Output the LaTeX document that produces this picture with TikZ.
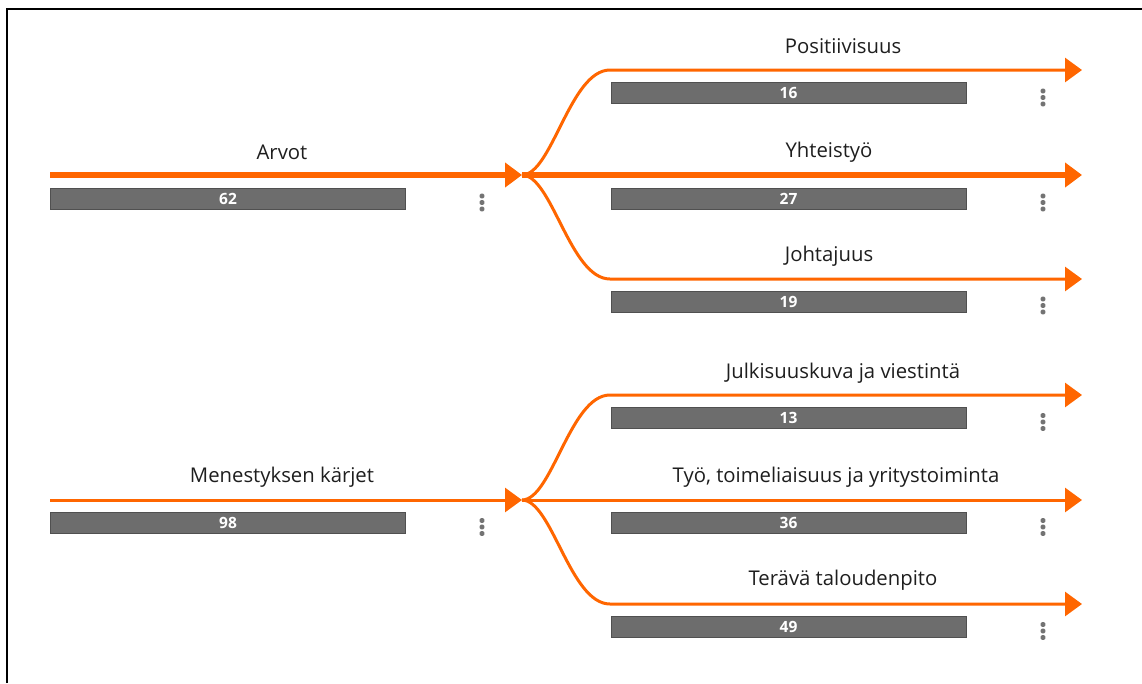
\documentclass[tikz,border=0pt]{standalone}
\usepackage{fontspec}
\setmainfont{Open Sans}
\usetikzlibrary{arrows.meta,positioning,calc}
\definecolor{flow}{RGB}{255,102,0}
\definecolor{barfill}{RGB}{109,109,109}
\definecolor{barline}{RGB}{80,80,80}
\definecolor{dotgray}{RGB}{115,115,115}
\definecolor{labeltext}{RGB}{30,30,30}
\tikzset{
    >={Triangle[length=17pt,width=24pt]},
    thickflow/.style={draw=flow, line width=5.5pt},
    thinflow/.style={draw=flow, line width=3pt},
    countbar/.style={
        rectangle,
        fill=barfill,
        draw=barline, line width=1pt,
        minimum width=355pt,
        minimum height=21pt,
        inner sep=0pt,
        text=white,
        font=\fontsize{15.5}{15.5}\selectfont\bfseries
    },
    flowlabel/.style={
        font=\fontsize{20.3}{20.3}\selectfont,
        text=labeltext,
        inner sep=0pt
    },
    menudot/.style={
        rectangle, rounded corners=1.5pt,
        fill=dotgray,
        minimum size=4.8pt,
        inner sep=0pt
    }
}
% three stacked dots (menu) centred at #1
\newcommand{\menudots}[1]{%
    \node[menudot] at ($(#1)+(0,-6.5)$) {};
    \node[menudot] at (#1) {};
    \node[menudot] at ($(#1)+(0,6.5)$) {};
}

\begin{document}
\begin{tikzpicture}[x=1pt, y=-1pt]
    \useasboundingbox (0,0) rectangle (1142,683);
    % frame
    \draw[line width=2pt] (7,683) -- (7,9) -- (1142,9);

    % ---- group 1: Arvot ----
    \coordinate (arvot start) at (50,175);
    \coordinate (arvot hub) at (522,175);
    \coordinate (posit bend) at (610,70);
    \coordinate (posit end) at (1082,70);
    \coordinate (yhteis end) at (1082,175);
    \coordinate (johta bend) at (610,279);
    \coordinate (johta end) at (1082,279);

    \draw[thickflow,->] (arvot start) -- (arvot hub);
    \draw[thinflow,->] (arvot hub) .. controls (552,175) and (570,70) .. (posit bend) -- (posit end);
    \draw[thickflow,->] (arvot hub) -- (yhteis end);
    \draw[thinflow,->] (arvot hub) .. controls (552,175) and (570,279) .. (johta bend) -- (johta end);

    \node[flowlabel] (arvot label) at (282,152) {Arvot};
    \node[countbar] (arvot bar) at (228,198.5) {62};
    \coordinate (arvot dots) at (482,202.5);
    \menudots{arvot dots}

    \node[flowlabel] (posit label) at (843,46) {Positiivisuus};
    \node[countbar] (posit bar) at (788.5,93) {16};
    \coordinate (posit dots) at (1043,97.5);
    \menudots{posit dots}

    \node[flowlabel] (yhteis label) at (829,152) {Yhteistyö};
    \node[countbar] (yhteis bar) at (788.5,198.5) {27};
    \coordinate (yhteis dots) at (1043,202.5);
    \menudots{yhteis dots}

    \node[flowlabel] (johta label) at (829,256) {Johtajuus};
    \node[countbar] (johta bar) at (788.5,301.5) {19};
    \coordinate (johta dots) at (1043,305.5);
    \menudots{johta dots}

    % ---- group 2: Menestyksen kärjet ----
    \coordinate (menest start) at (50,500);
    \coordinate (menest hub) at (522,500);
    \coordinate (julki bend) at (610,395);
    \coordinate (julki end) at (1082,395);
    \coordinate (tyo end) at (1082,500);
    \coordinate (tera bend) at (610,604);
    \coordinate (tera end) at (1082,604);

    \draw[thinflow,->] (menest start) -- (menest hub);
    \draw[thinflow,->] (menest hub) .. controls (552,500) and (570,395) .. (julki bend) -- (julki end);
    \draw[thinflow,->] (menest hub) -- (tyo end);
    \draw[thinflow,->] (menest hub) .. controls (552,500) and (570,604) .. (tera bend) -- (tera end);

    \node[flowlabel] (menest label) at (282,477) {Menestyksen kärjet};
    \node[countbar] (menest bar) at (228,523) {98};
    \coordinate (menest dots) at (482,527);
    \menudots{menest dots}

    \node[flowlabel] (julki label) at (843,373) {Julkisuuskuva ja viestintä};
    \node[countbar] (julki bar) at (788.5,418) {13};
    \coordinate (julki dots) at (1043,422);
    \menudots{julki dots}

    \node[flowlabel] (tyo label) at (836,477) {Työ, toimeliaisuus ja yritystoiminta};
    \node[countbar] (tyo bar) at (788.5,523) {36};
    \coordinate (tyo dots) at (1043,527);
    \menudots{tyo dots}

    \node[flowlabel] (tera label) at (843,580) {Terävä taloudenpito};
    \node[countbar] (tera bar) at (788.5,627) {49};
    \coordinate (tera dots) at (1043,631);
    \menudots{tera dots}
\end{tikzpicture}
\end{document}
